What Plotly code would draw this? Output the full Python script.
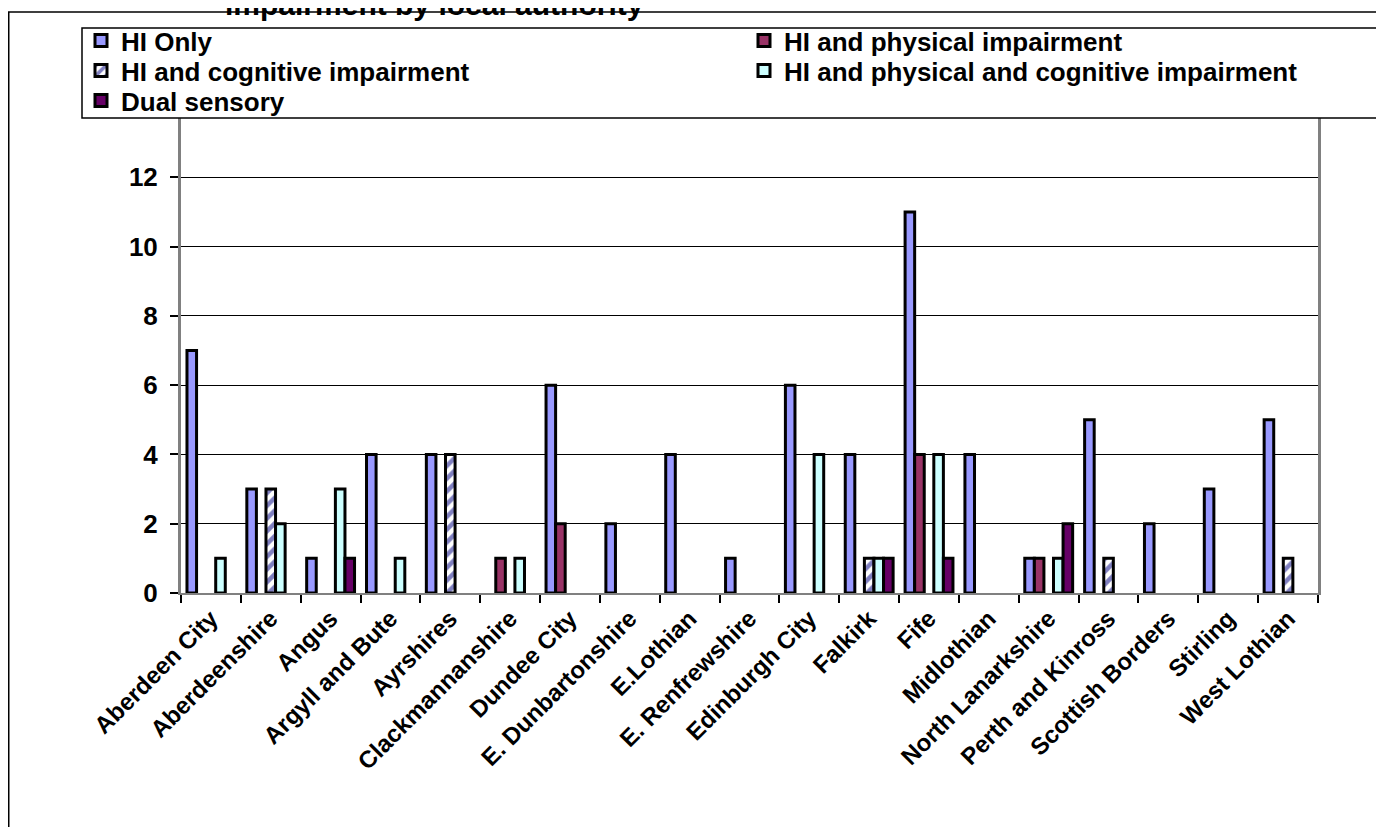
import plotly.graph_objects as go

categories = ["Aberdeen City", "Aberdeenshire", "Angus", "Argyll and Bute", "Ayrshires",
              "Clackmannanshire", "Dundee City", "E. Dunbartonshire", "E.Lothian",
              "E. Renfrewshire", "Edinburgh City", "Falkirk", "Fife", "Midlothian",
              "North Lanarkshire", "Perth and Kinross", "Scottish Borders", "Stirling",
              "West Lothian"]
hi_only      = [7, 3, 1, 4, 4, 0, 6, 2, 4, 1, 6, 4, 11, 4, 1, 5, 2, 3, 5]
hi_physical  = [0, 0, 0, 0, 0, 1, 2, 0, 0, 0, 0, 0, 4, 0, 1, 0, 0, 0, 0]
hi_cognitive = [0, 3, 0, 0, 4, 0, 0, 0, 0, 0, 0, 1, 0, 0, 0, 1, 0, 0, 1]
hi_phys_cog  = [1, 2, 3, 1, 0, 1, 0, 0, 0, 0, 4, 1, 4, 0, 1, 0, 0, 0, 0]
dual_sensory = [0, 0, 1, 0, 0, 0, 0, 0, 0, 0, 0, 1, 1, 0, 2, 0, 0, 0, 0]

series_names = ["HI Only", "HI and physical impairment", "HI and cognitive impairment",
                "HI and physical and cognitive impairment", "Dual sensory"]
y_ticks = [0, 2, 4, 6, 8, 10, 12]
y_max = 14

FONT = "Arial, 'Liberation Sans', sans-serif"
W, H = 1384, 827
# page has an 8px body margin; margins below are in figure pixels
L, R, T, B = 173, 74, 100, 242
PW, PH = W - L - R, H - T - B
PLOT_LEFT_PAGE, PLOT_BOTTOM_PAGE = 181, 593


def px_x(p):
    """page x pixel -> paper coordinate"""
    return (p - PLOT_LEFT_PAGE) / PW


def px_y(p):
    """page y pixel -> paper coordinate"""
    return (PLOT_BOTTOM_PAGE - p) / PH


def nz(values):
    # zero-height bars are not drawn (no outline on the axis)
    return [v if v != 0 else None for v in values]


fig = go.Figure()
line = dict(color="black", width=3)
fig.add_trace(go.Bar(name=series_names[0], x=categories, y=nz(hi_only),
                     marker=dict(color="#9999FF", line=line), legend="legend"))
fig.add_trace(go.Bar(name=series_names[1], x=categories, y=nz(hi_physical),
                     marker=dict(color="#993366", line=line), legend="legend2"))
fig.add_trace(go.Bar(name=series_names[2], x=categories, y=nz(hi_cognitive),
                     marker=dict(color="white", line=line,
                                 pattern=dict(shape="/", fgcolor="#000080", bgcolor="white",
                                              size=9, solidity=0.5)),
                     legend="legend3"))
fig.add_trace(go.Bar(name=series_names[3], x=categories, y=nz(hi_phys_cog),
                     marker=dict(color="#CCFFFF", line=line), legend="legend4"))
fig.add_trace(go.Bar(name=series_names[4], x=categories, y=nz(dual_sensory),
                     marker=dict(color="#660066", line=line), legend="legend5"))

legend_font = dict(family=FONT, size=26, color="black", weight="bold")


def leg(xpage, ypage):
    return dict(x=px_x(xpage), y=px_y(ypage), xanchor="left", yanchor="top",
                orientation="v", bgcolor="rgba(0,0,0,0)", borderwidth=0,
                font=legend_font)


fig.update_layout(
    width=W, height=H,
    margin=dict(l=L, r=R, t=T, b=B, autoexpand=False),
    paper_bgcolor="white", plot_bgcolor="white",
    barmode="group", bargap=0.2, bargroupgap=0,
    showlegend=True,
    legend=leg(81, 17),
    legend2=leg(744, 17),
    legend3=leg(81, 47),
    legend4=leg(744, 47),
    legend5=leg(81, 77),
    xaxis=dict(
        type="category", showgrid=False, zeroline=False,
        showline=True, linecolor="#808080", linewidth=2, mirror=True,
        ticks="outside", tickson="boundaries", ticklen=8, tickwidth=1.5, tickcolor="black",
        tickangle=-45, tickfont=dict(family=FONT, size=24, color="black", weight="bold"),
    ),
    yaxis=dict(
        range=[0, y_max], tickvals=y_ticks, showgrid=True, gridcolor="black", gridwidth=1,
        zeroline=False, showline=True, linecolor="#808080", linewidth=3, mirror=True,
        ticks="outside", ticklen=8, tickwidth=1.5, tickcolor="black",
        tickfont=dict(family=FONT, size=26, color="black", weight="bold"),
        ticklabelstandoff=7,
    ),
    shapes=[
        # outer chart frame
        dict(type="rect", xref="paper", yref="paper", x0=px_x(8.75), x1=px_x(1450),
             y0=px_y(900), y1=px_y(12), line=dict(color="black", width=1.5),
             fillcolor="rgba(0,0,0,0)", layer="above"),
        # legend box
        dict(type="rect", xref="paper", yref="paper", x0=px_x(82), x1=px_x(1450),
             y0=px_y(118), y1=px_y(28), line=dict(color="black", width=1.5),
             fillcolor="white", layer="above"),
    ],
    annotations=[
        dict(text="impairment by local authority", xref="paper", yref="paper",
             x=px_x(434), y=px_y(23), xanchor="center", yanchor="bottom", showarrow=False,
             font=dict(family=FONT, size=30, color="black", weight="bold")),
    ],
)

fig.write_html("out.html")
